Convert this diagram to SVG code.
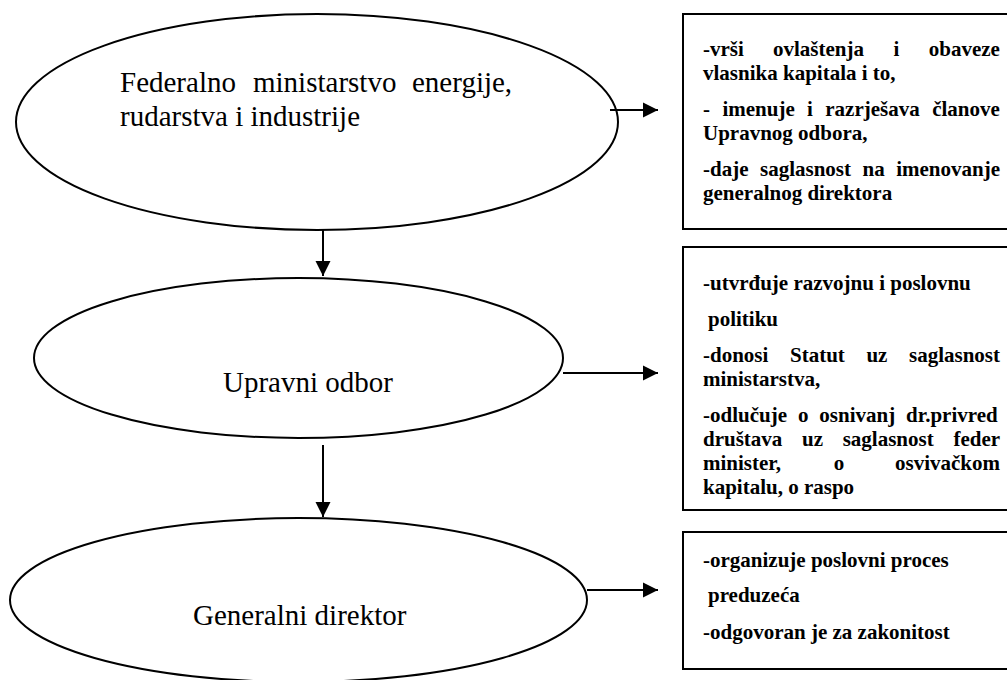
<svg xmlns="http://www.w3.org/2000/svg" width="1007" height="680" viewBox="0 0 1007 680">
<defs>
<style>
.ell{fill:#fff;stroke:#000;stroke-width:2}
.box{fill:#fff;stroke:#000;stroke-width:2}
.et{font-family:"Liberation Serif","Times New Roman",serif;font-size:29px;fill:#000}
.bt{font-family:"Liberation Serif","Times New Roman",serif;font-size:21px;font-weight:bold;fill:#000}
.ln{stroke:#000;stroke-width:2;fill:none}
</style>
<marker id="ah" viewBox="0 0 10 10" refX="10" refY="5" markerWidth="7.5" markerHeight="8" markerUnits="strokeWidth" orient="auto"><path d="M0,0 L10,5 L0,10 z" fill="#000"/></marker>
<clipPath id="c3"><rect x="683" y="532" width="330" height="137"/></clipPath>
</defs>
<rect width="1007" height="680" fill="#fff"/>
<g id="n1">
<ellipse class="ell" cx="317" cy="122" rx="301" ry="108"/>
<text class="et" y="92"><tspan x="120">Federalno</tspan><tspan x="253">ministarstvo</tspan><tspan x="412">energije,</tspan></text>
<text class="et" x="120" y="126">rudarstva i industrije</text>
</g>
<g id="n2">
<ellipse class="ell" cx="298.5" cy="358" rx="264.5" ry="80"/>
<text class="et" x="223" y="392">Upravni odbor</text>
</g>
<g id="n3">
<ellipse class="ell" cx="298.5" cy="600" rx="288.5" ry="82"/>
<text class="et" x="193" y="625">Generalni direktor</text>
</g>
<g id="b1">
<rect class="box" x="683" y="14" width="330" height="215"/>
<text class="bt" y="56"><tspan x="703">-vrši</tspan><tspan x="773">ovlaštenja</tspan><tspan x="893.5">i</tspan><tspan x="928.8">obaveze</tspan></text>
<text class="bt" x="703" y="80">vlasnika kapitala i to,</text>
<text class="bt" y="116"><tspan x="703">-</tspan><tspan x="722.4">imenuje</tspan><tspan x="807.1">i</tspan><tspan x="825.3">razrješava</tspan><tspan x="932.2">članove</tspan></text>
<text class="bt" x="703" y="140">Upravnog odbora,</text>
<text class="bt" y="176"><tspan x="703">-daje</tspan><tspan x="760">saglasnost</tspan><tspan x="862.5">na</tspan><tspan x="896.2">imenovanje</tspan></text>
<text class="bt" x="703" y="200">generalnog direktora</text>
</g>
<g id="b2">
<rect class="box" x="683" y="247" width="330" height="263"/>
<text class="bt" x="703" y="290">-utvrđuje razvojnu i poslovnu</text>
<text class="bt" x="708" y="326">politiku</text>
<text class="bt" y="362"><tspan x="703">-donosi</tspan><tspan x="790">Statut</tspan><tspan x="866.4">uz</tspan><tspan x="909">saglasnost</tspan></text>
<text class="bt" x="703" y="386">ministarstva,</text>
<text class="bt" y="422"><tspan x="703">-odlučuje</tspan><tspan x="797.9">o</tspan><tspan x="819.3">osnivanj</tspan><tspan x="906.1">dr.privred</tspan></text>
<text class="bt" y="446"><tspan x="703">društava</tspan><tspan x="802">uz</tspan><tspan x="842.7">saglasnost</tspan><tspan x="953.4">feder</tspan></text>
<text class="bt" y="470"><tspan x="703">minister,</tspan><tspan x="833.7">o</tspan><tspan x="895">osvivačkom</tspan></text>
<text class="bt" x="703" y="494">kapitalu, o raspo</text>
</g>
<g id="b3">
<rect class="box" x="683" y="532" width="330" height="137"/>
<text class="bt" x="703" y="567">-organizuje poslovni proces</text>
<text class="bt" x="708" y="602">preduzeća</text>
<text class="bt" x="703" y="639">-odgovoran je za zakonitost</text>
</g>
<g id="connectors">
<line class="ln" x1="610" y1="110" x2="658" y2="110" marker-end="url(#ah)"/>
<line class="ln" x1="563" y1="373" x2="658" y2="373" marker-end="url(#ah)"/>
<line class="ln" x1="587" y1="590" x2="658" y2="590" marker-end="url(#ah)"/>
<line class="ln" x1="323" y1="230" x2="323" y2="276" marker-end="url(#ah)"/>
<line class="ln" x1="323" y1="445" x2="323" y2="517" marker-end="url(#ah)"/>
</g>
</svg>
